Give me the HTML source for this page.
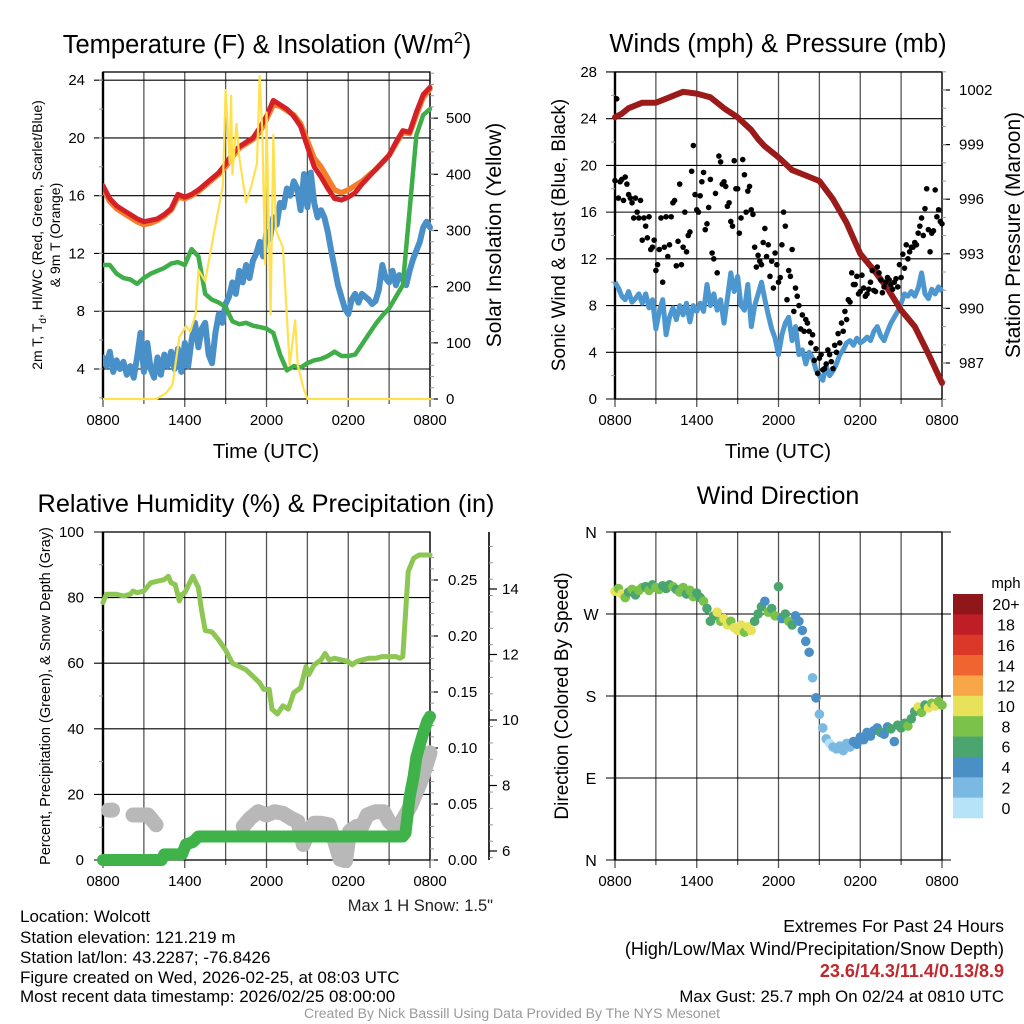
<!DOCTYPE html>
<html><head><meta charset="utf-8">
<style>
html,body{margin:0;padding:0;background:#fff;}
svg{display:block;font-family:"Liberation Sans",sans-serif;}
</style></head>
<body>
<svg id="chart" width="1024" height="1024" viewBox="0 0 1024 1024" xmlns="http://www.w3.org/2000/svg">
<rect x="0" y="0" width="1024" height="1024" fill="#fff"/>
</svg>
<script>
// ---------------- DATA ----------------
const timeLabels = ["0800","1400","2000","0200","0800"];
const timeLabelHours = [0,6,12,18,24];
// Panel 1 (0.5 h step)
const tempRed = [16.7,15.8,15.3,15.0,14.7,14.4,14.2,14.3,14.4,14.7,15.1,16.1,15.9,16.1,16.4,16.8,17.2,17.6,18.2,18.9,19.4,19.7,20.0,20.7,21.5,22.6,22.3,22.0,21.5,20.8,19.4,18.0,17.3,16.5,15.8,15.7,15.9,16.2,16.8,17.3,17.8,18.3,18.8,19.7,20.5,20.4,21.8,23.0,23.5];
const temp9mOrange = [16.5,15.6,15.1,14.8,14.5,14.2,14.0,14.1,14.3,14.6,15.0,15.9,15.8,16.0,16.3,16.7,17.1,17.5,18.0,18.7,19.3,19.6,19.9,20.4,21.3,22.3,22.2,21.9,21.6,21.0,19.8,18.6,18.0,17.2,16.4,16.2,16.4,16.7,17.0,17.4,17.8,18.3,18.8,19.6,20.4,20.3,21.6,22.8,23.4];
const dewGreen = [11.2,11.2,10.6,10.3,10.2,9.9,10.3,10.6,10.8,11.0,11.3,11.4,11.2,12.3,11.8,9.2,8.8,8.6,8.3,7.3,7.1,7.2,7.0,6.9,6.8,6.5,5.0,3.9,4.2,4.1,4.4,4.6,4.7,4.9,5.2,4.9,4.9,5.0,5.7,6.4,7.1,7.7,8.2,9.0,9.8,15.0,20.2,21.6,22.0];
// wind chill (0.25 h step)
const windChillBlue = [4.8,4.2,5.2,3.8,4.6,4.0,4.5,3.6,4.2,
 3.4,4.8,6.5,3.8,5.8,4.0,3.4,4.8,
 3.6,5.0,4.2,5.2,4.0,5.4,3.8,5.8,
 4.2,6.0,7.2,5.5,6.8,7.2,5.0,4.4,
 6.5,7.8,7.2,8.5,9.0,10.0,9.2,10.8,
 10.0,11.2,10.3,11.5,12.0,12.8,11.8,13.5,
 13.0,14.5,14.0,15.5,15.2,16.5,16.0,17.0,
 16.5,15.0,17.5,15.2,17.6,15.5,14.5,15.0,
 14.5,13.5,12.2,11.0,9.8,9.0,8.2,7.8,
 8.8,9.2,8.6,9.2,9.0,8.8,8.5,8.7,
 9.5,11.2,10.3,10.0,10.8,9.8,10.5,10.2,
 9.8,10.8,11.6,12.2,12.8,13.8,14.2,13.8];
const solarT = [0,3.9,4.6,5.1,5.6,6.1,6.4,6.8,7.0,7.5,8.1,8.8,9.0,9.3,9.4,9.5,9.8,10.0,10.5,10.9,11.3,11.5,11.7,11.9,12.0,12.3,12.5,12.7,13.2,13.7,14.1,14.3,14.7,15.0,24];
const solarV = [0,0,10,25,110,130,120,150,230,210,290,380,550,420,540,400,490,430,350,380,420,575,470,240,510,150,470,300,270,60,140,60,20,0,0];
// Panel 2 (0.25 h step)
const sonicWind = [10.0,9.5,8.8,8.5,9.2,8.3,8.6,9.0,8.2,
 9.0,7.8,8.5,6.0,7.5,8.5,5.5,7.0,
 7.8,6.8,8.0,7.2,8.2,6.6,8.0,7.5,
 8.2,7.5,9.8,8.0,9.0,7.6,8.5,6.5,
 8.6,10.8,9.2,10.5,8.0,7.6,9.8,6.2,
 8.0,9.0,10.0,8.5,7.2,6.0,5.2,3.8,
 5.5,6.5,7.0,5.0,6.2,3.8,4.2,3.0,
 4.0,3.5,2.5,2.0,1.6,2.8,2.0,2.4,
 3.0,3.8,4.2,4.8,5.0,4.6,5.2,4.8,
 5.0,5.3,5.0,5.8,6.2,5.4,5.0,5.8,
 6.5,7.0,7.5,8.2,9.0,8.8,9.2,8.8,
 9.5,10.8,9.0,8.6,9.4,9.0,9.6,9.2];
const gustA = [18.7,17.2,18.8,19.0,17.5,16.8,17.2,15.5,13.6,
 14.8,15.6,13.0,11.0,12.8,10.0,15.6,13.2,
 16.8,11.4,18.4,13.0,12.6,14.3,21.7,16.2,
 17.4,19.4,15.0,18.8,12.0,10.8,20.3,18.6,
 16.5,15.2,20.4,18.0,15.5,19.2,17.8,16.2,
 13.0,12.3,11.5,14.6,13.2,11.8,12.5,10.0,
 13.2,14.8,11.0,12.8,9.5,8.0,7.2,6.8,
 5.8,5.5,4.3,3.5,2.5,3.0,3.8,2.6,
 4.0,4.8,5.8,6.8,8.3,9.8,10.5,9.2,
 9.5,9.0,10.0,9.3,11.3,10.2,9.6,10.4,
 9.8,10.0,9.6,10.4,11.2,12.0,13.0,13.4,
 14.2,15.5,16.3,14.5,14.2,17.9,16.2,15.0];
const gustB = [25.7,18.6,17.0,18.4,17.2,15.5,16.0,17.0,
 15.5,13.8,12.8,13.6,11.5,15.5,13.0,12.2,
 15.6,17.0,13.5,11.5,16.0,14.0,19.5,17.5,
 16.0,18.6,14.5,16.4,12.5,17.6,20.8,18.4,
 18.2,16.8,14.8,18.0,14.2,20.5,16.0,18.2,
 15.8,11.3,11.8,13.4,12.2,10.5,9.5,11.5,
 10.4,16.0,8.5,10.5,7.5,8.8,6.0,5.8,
 6.5,4.8,3.3,2.2,3.8,2.6,4.2,3.2,
 4.6,5.6,6.5,7.5,8.5,10.8,9.8,9.0,
 10.6,8.8,9.4,11.0,9.2,10.8,9.1,10.0,
 10.2,9.4,10.3,11.5,12.4,13.2,12.6,13.0,
 13.2,14.8,14.0,18.0,12.6,14.4,15.6,15.2];
const pressT = [0,0.5,1,2,3,4,5,6,7,8,9,10,10.5,11,12,13,14,15,16,17,18,19,20,21,22,23,24];
const pressV = [1000.5,1000.7,1001.0,1001.3,1001.3,1001.6,1001.9,1001.8,1001.6,1001.0,1000.5,999.8,999.3,998.9,998.3,997.6,997.3,997.0,996.0,994.7,993.0,992.1,991.1,989.9,989.0,987.5,985.9];
// Panel 3
const rhT = [0,0.25,0.5,1,1.5,2,2.2,2.5,3,3.5,4,4.5,4.8,5,5.3,5.6,5.8,6,6.3,6.6,7,7.2,7.5,8,8.5,9,9.5,10,10.5,11,11.5,11.8,12.2,12.4,12.8,13.2,13.6,14,14.5,14.9,15.1,15.5,16,16.3,16.6,17,17.5,18,18.3,18.6,19,19.5,20,20.5,21,21.5,21.8,22,22.2,22.4,22.8,23.2,24];
const rhV = [78.5,81,81,81,80.5,81,82,81.5,82,84.5,85,85.5,86.5,84.5,84,79,81,81.5,84,86.5,83,77,70,69.5,67,64,60,59,58,56,54,52,52,46,44.5,47,46,51,52.5,59,56.5,59.5,61,63,61,61.5,61,60.5,59.5,60.5,61,61.5,61.5,62,62,62,61.5,62,75,88,92,93,93];
const precipT = [0,4.3,4.5,5.8,6.1,6.6,7.0,22.0,22.2,22.5,22.8,23.0,23.3,23.5,23.8,24];
const precipV = [0,0,0.005,0.005,0.014,0.016,0.021,0.021,0.024,0.056,0.075,0.092,0.105,0.113,0.124,0.128];
const snowT = [0.4,0.7,null,2.2,2.8,3.3,3.6,3.9,null,10.3,10.8,11.4,12.0,12.6,13.2,13.8,14.3,14.7,15.1,15.5,16.0,16.6,17.0,17.4,17.8,18.1,18.6,19.0,19.4,20.0,20.6,21.0,21.4,21.8,22.2,22.6,23.0,23.4,23.7,24.0];
const snowV = [7.25,7.25,null,7.1,7.1,7.1,6.95,6.8,null,6.75,7.0,7.2,7.1,7.2,7.15,7.0,6.9,6.2,6.6,6.85,6.85,6.8,6.3,5.75,5.7,6.6,6.75,6.75,7.1,7.2,7.2,6.9,6.75,6.8,7.1,7.4,7.8,8.2,8.6,9.0];
// Panel 4 (0.25 h step)
const windDir = [295,298,292,288,294,297,291,296,299,
 300,296,302,299,297,301,298,302,
 300,297,294,299,292,296,289,293,
 288,284,276,262,268,272,262,265,
 258,262,255,252,258,250,256,252,
 262,270,278,284,272,276,268,300,
 265,270,262,258,268,262,252,240,
 228,200,178,160,145,133,128,124,
 122,125,120,128,124,130,127,135,
 132,140,136,142,145,140,138,146,
 144,130,148,145,150,147,155,163,
 168,162,170,167,172,169,174,170];
const dirSpeed = [10,9,11,8,7,8,7,9,8,
 6,8,7,8,8,7,6,7,
 8,7,8,9,7,8,8,7,
 7,8,6,6,7,10,9,11,
 10,9,11,10,10,9,11,10,
 7,6,6,5,8,6,9,6,
 4,6,8,7,5,4,4,5,
 4,3,4,3,2,2,1,2,
 2,2,2,3,3,4,4,4,
 4,5,4,4,5,6,5,4,
 6,5,6,7,7,8,7,7,
 10,8,7,10,8,11,9,8];
const speedColors = ["#b6e3f8","#7bb9e3","#4a8fc6","#4aa56f","#7bc24b","#e8e25b","#f7a747","#f06430","#dc3829","#bf1e27","#8f1619"];
const speedLabels = ["0","2","4","6","8","10","12","14","16","18","20+"];
const dirLabels = ["N","E","S","W","N"];
const dirTicks = [0,90,180,270,360];
const p1LeftTicks = [4,8,12,16,20,24];
const p1RightTicks = [0,100,200,300,400,500];
const p2LeftTicks = [0,4,8,12,16,20,24,28];
const p2RightTicks = [987,990,993,996,999,1002];
const p3LeftTicks = [0,20,40,60,80,100];
const p3PrecipTicks = [0,0.05,0.10,0.15,0.20,0.25];
const p3SnowTicks = [6,8,10,12,14];

// ---------------- HELPERS ----------------
const NS = 'http://www.w3.org/2000/svg';
const svg = document.getElementById('chart');
function el(tag, attrs, parent){
  const e = document.createElementNS(NS, tag);
  for (const k in attrs) e.setAttribute(k, attrs[k]);
  (parent || svg).appendChild(e);
  return e;
}
function path(ts, vs, X, Y){
  let d = '', pen = false;
  for (let i = 0; i < ts.length; i++){
    if (ts[i] === null || vs[i] === null){ pen = false; continue; }
    d += (pen ? 'L' : 'M') + X(ts[i]).toFixed(1) + ',' + Y(vs[i]).toFixed(1);
    pen = true;
  }
  return d;
}
function steps(n, dt, t0){ const a = []; for (let i = 0; i < n; i++) a.push(t0 + i*dt); return a; }
function txt(x, y, s, size, anchor, parent, extra){
  const t = el('text', Object.assign({x:x, y:y, 'font-size':size, 'text-anchor':anchor || 'start', fill:'#000'}, extra || {}), parent);
  t.textContent = s;
  return t;
}

function makeX(x0, x1){ return h => x0 + h*(x1-x0)/24; }

function drawFrame(g, P, X, gridYs){
  for (let h = 0; h <= 24; h += 3){
    const isMajor = (h % 6 === 0);
    const ln = el('line', {x1:X(h), y1:P.y0, x2:X(h), y2:P.y1 + (isMajor ? 8 : 5), stroke: '#555', 'stroke-width':1.3}, g);
    
    
  }
  gridYs.forEach(y => {
    const ln = el('line', {x1:P.x0-9, y1:y, x2:P.x1, y2:y, stroke:'#000', 'stroke-width':1.1}, g);
    
    
  });
  const fr = el('rect', {x:P.x0, y:P.y0, width:P.x1-P.x0, height:P.y1-P.y0, fill:'none', stroke:'#000', 'stroke-width':1.3}, g);
  
  
  const la = el('line', {x1:P.x0, y1:P.y0, x2:P.x0, y2:P.y1, stroke:'#000', 'stroke-width':2.4}, g);
  
  
  timeLabels.forEach((s, i) => {
    const t = txt(X(timeLabelHours[i]), P.y1 + 26, s, 15, 'middle', g);
    
    
  });
}
function leftLabels(g, ticks, Y, x, fmt){
  ticks.forEach(v => {
    const t = txt(x, Y(v) + 5, fmt ? fmt(v) : String(v), 15, 'end', g);
    
    
  });
}
function rightAxis(g, ticks, Y, x, labelX, minorStep, vmin, vmax, fmt, name){
  ticks.forEach(v => {
    const tk = el('line', {x1:x, y1:Y(v), x2:x+8, y2:Y(v), stroke:'#000', 'stroke-width':1.2}, g);
    
    
    const t = txt(labelX, Y(v) + 5, fmt ? fmt(v) : String(v), 15, 'start', g);
    
    
  });
  for (let v = vmin; v <= vmax + 1e-9; v += minorStep){
    const mt = el('line', {x1:x, y1:Y(v), x2:x+4, y2:Y(v), stroke:'#999', 'stroke-width':1}, g);
    
    
  }
}
function rotLabel(g, x, y, s, size, name){
  const t = el('text', {x:0, y:0, 'font-size':size, 'text-anchor':'middle', transform:'translate(' + x + ',' + y + ') rotate(-90)'}, g);
  t.textContent = s;
  
  
  return t;
}

const q = steps(97, 0.25, 0);
const half = steps(49, 0.5, 0);
const qB = steps(96, 0.25, 0.125);

// ---------------- PANEL 1 ----------------
(function(){
  const P = {x0:103, x1:430, y0:72, y1:399};
  const X = makeX(P.x0, P.x1);
  const YL = v => 369 - (v - 4)*14.44;
  const YR = w => 399 - w*0.5617;
  const g = el('g', {});
  
  
  drawFrame(g, P, X, p1LeftTicks.map(YL));
  for (let v = 2; v <= 24; v += 2){
    const mt = el('line', {x1:P.x0-4, y1:YL(v), x2:P.x0, y2:YL(v), stroke:'#999'}, g);
    
    
  }
  leftLabels(g, p1LeftTicks, YL, 85);
  rightAxis(g, p1RightTicks, YR, P.x1, 446, 20, 0, 580, null, 'insolation');
  const clip = el('clipPath', {id:'c1'}, g);
  el('rect', {x:P.x0, y:P.y0-2, width:P.x1-P.x0+4, height:P.y1-P.y0+4}, clip);
  const s = el('g', {'clip-path':'url(#c1)', fill:'none', 'stroke-linejoin':'round', 'stroke-linecap':'round'}, g);
  let e;
  e = el('path', {d:path(q, windChillBlue, X, YL), stroke:'#4a90c8', 'stroke-width':6}, s);
  
  
  e = el('path', {d:path(half, dewGreen, X, YL), stroke:'#3fae49', 'stroke-width':4.5}, s);
  
  
  e = el('path', {d:path(half, temp9mOrange, X, YL), stroke:'#f47e2a', 'stroke-width':5.5}, s);
  
  
  e = el('path', {d:path(half, tempRed, X, YL), stroke:'#d42027', 'stroke-width':5}, s);
  
  
  e = el('path', {d:path(solarT, solarV, X, YR), stroke:'#ffe14f', 'stroke-width':2.2}, s);
  
  
  const title = el('text', {x:267, y:53, 'font-size':25.5, 'text-anchor':'middle'}, g);
  title.innerHTML = 'Temperature (F) &amp; Insolation (W/m<tspan font-size="16" dy="-10">2</tspan><tspan dy="10">)</tspan>';
  
  
  const yl = el('text', {x:0, y:0, 'font-size':14, 'text-anchor':'middle', transform:'translate(42,235) rotate(-90)'}, g);
  yl.innerHTML = '2m T, T<tspan font-size="10" dy="4">d</tspan><tspan dy="-4">, HI/WC (Red, Green, Scarlet/Blue)</tspan>';
  
  
  rotLabel(g, 60, 235, '& 9m T (Orange)', 14, 'left-axis-title-line2');
  rotLabel(g, 501, 235, 'Solar Insolation (Yellow)', 21, 'right-axis-title');
  const xt = txt(266, 458, 'Time (UTC)', 20.5, 'middle', g);
  
  
})();

// ---------------- PANEL 2 ----------------
(function(){
  const P = {x0:615, x1:942, y0:72, y1:399};
  const X = makeX(P.x0, P.x1);
  const YL = v => 399 - v*11.68;
  const YR = p => 90 + (1002 - p)*18.2;
  const g = el('g', {});
  
  
  drawFrame(g, P, X, p2LeftTicks.map(YL));
  for (let v = 2; v <= 28; v += 4){
    const mt = el('line', {x1:P.x0-4, y1:YL(v), x2:P.x0, y2:YL(v), stroke:'#999'}, g);
    
    
  }
  leftLabels(g, p2LeftTicks, YL, 597);
  rightAxis(g, p2RightTicks, YR, P.x1, 959, 1, 985, 1003, null, 'pressure');
  const clip = el('clipPath', {id:'c2'}, g);
  el('rect', {x:P.x0-4, y:P.y0-4, width:P.x1-P.x0+8, height:P.y1-P.y0+8}, clip);
  const s = el('g', {'clip-path':'url(#c2)'}, g);
  let e = el('path', {d:path(q, sonicWind, X, YL), stroke:'#4d97d1', 'stroke-width':5, fill:'none', 'stroke-linejoin':'round'}, s);
  
  
  e = el('path', {d:path(pressT, pressV, X, YR), stroke:'#9b1b1b', 'stroke-width':6, fill:'none', 'stroke-linejoin':'round', 'stroke-linecap':'round'}, s);
  
  
  const dots = el('g', {fill:'#000'}, s);
  
  
  gustA.forEach((v, i) => {
    const c = el('circle', {cx:X(q[i]), cy:YL(v), r:2.8}, dots);
    
    
  });
  gustB.forEach((v, i) => {
    const c = el('circle', {cx:X(qB[i]), cy:YL(v), r:2.8}, dots);
    
    
  });
  const title = txt(778, 52, 'Winds (mph) & Pressure (mb)', 25.5, 'middle', g);
  
  
  rotLabel(g, 565, 235, 'Sonic Wind & Gust (Blue, Black)', 19, 'left-axis-title');
  rotLabel(g, 1020, 235, 'Station Pressure (Maroon)', 21, 'right-axis-title');
  const xt = txt(778, 458, 'Time (UTC)', 20.5, 'middle', g);
  
  
})();

// ---------------- PANEL 3 ----------------
(function(){
  const P = {x0:103, x1:430, y0:532, y1:860};
  const X = makeX(P.x0, P.x1);
  const YL = v => 860 - v*3.28;
  const YP = p => 860 - p*1120;
  const YS = s => 851 - (s - 6)*32.75;
  const g = el('g', {});
  
  
  drawFrame(g, P, X, p3LeftTicks.map(YL));
  for (let v = 10; v <= 100; v += 20){
    const mt = el('line', {x1:P.x0-4, y1:YL(v), x2:P.x0, y2:YL(v), stroke:'#999'}, g);
    
    
  }
  leftLabels(g, p3LeftTicks, YL, 84);
  rightAxis(g, p3PrecipTicks, YP, P.x1, 448, 0.01, 0, 0.27, v => v.toFixed(2), 'precip');
  const sa = el('line', {x1:489, y1:532, x2:489, y2:860, stroke:'#000', 'stroke-width':1.6}, g);
  
  
  rightAxis(g, p3SnowTicks, YS, 489, 502, 0.5, 5.8, 15.5, null, 'snow');
  const clip = el('clipPath', {id:'c3'}, g);
  el('rect', {x:P.x0-8, y:P.y0, width:P.x1-P.x0+16, height:P.y1-P.y0+8}, clip);
  const s = el('g', {'clip-path':'url(#c3)', fill:'none', 'stroke-linejoin':'round', 'stroke-linecap':'round'}, g);
  let e = el('path', {d:path(snowT, snowV, X, YS), stroke:'#b8b8b8', 'stroke-width':15}, s);
  
  
  e = el('path', {d:path(rhT, rhV, X, YL), stroke:'#8dc652', 'stroke-width':5}, s);
  
  
  e = el('path', {d:path(precipT, precipV, X, YP), stroke:'#3fb34a', 'stroke-width':12}, s);
  
  
  const title = txt(266, 512, 'Relative Humidity (%) & Precipitation (in)', 25.3, 'middle', g);
  
  
  rotLabel(g, 50, 696, 'Percent, Precipitation (Green), & Snow Depth (Gray)', 14.5, 'left-axis-title');
  const ms = txt(493, 911, 'Max 1 H Snow: 1.5"', 16.5, 'end', g, {fill:'#222'});
  
  
})();

// ---------------- PANEL 4 ----------------
(function(){
  const P = {x0:615, x1:942, y0:532, y1:860};
  const X = makeX(P.x0, P.x1);
  const Y = d => 860 - d*328/360;
  const g = el('g', {});
  
  
  drawFrame(g, P, X, []);
  dirTicks.forEach((d, i) => {
    const ln = el('line', {x1:P.x0-9, y1:Y(d), x2:P.x1+9, y2:Y(d), stroke:'#000', 'stroke-width':1.1}, g);
    
    
    const t = txt(591, Y(d) + 6, dirLabels[i], 16, 'middle', g);
    
    
  });
  const dots = el('g', {}, g);
  
  
  windDir.forEach((d, i) => {
    const bin = Math.max(0, Math.min(10, Math.floor(dirSpeed[i]/2)));
    const c = el('circle', {cx:X(q[i]), cy:Y(d), r:4.8, fill:speedColors[bin]}, dots);
    
    
  });
  const cb = el('g', {}, g);
  
  
  const top = 594, bh = (818 - 594)/11;
  for (let i = 0; i < 11; i++){
    const k = 10 - i;
    const r = el('rect', {x:953, y:top + i*bh, width:30, height:bh + 0.3, fill:speedColors[k]}, cb);
    
    
    const t = txt(1006, top + i*bh + bh/2 + 6, speedLabels[k], 16, 'middle', cb);
    
    
  }
  const u = txt(1006, 588, 'mph', 15, 'middle', cb);
  
  
  const title = txt(778, 504, 'Wind Direction', 25, 'middle', g);
  
  
  rotLabel(g, 568, 696, 'Direction (Colored By Speed)', 19, 'left-axis-title');
})();

// ---------------- FOOTER TEXT ----------------
(function(){
  const g = el('g', {});
  
  
  const lines = ['Location: Wolcott','Station elevation: 121.219 m','Station lat/lon: 43.2287; -76.8426','Figure created on Wed, 2026-02-25, at 08:03 UTC','Most recent data timestamp: 2026/02/25 08:00:00'];
  const ys = [922,943,963,983,1002];
  lines.forEach((s, i) => {
    const t = txt(20, ys[i], s, 17, 'start', g);
    
    
  });
  let t = txt(1004, 932, 'Extremes For Past 24 Hours', 17.5, 'end', g);
  
  
  t = txt(1004, 955, '(High/Low/Max Wind/Precipitation/Snow Depth)', 18, 'end', g);
  
  
  t = txt(1004, 977, '23.6/14.3/11.4/0.13/8.9', 18, 'end', g, {fill:'#c1272d', 'font-weight':'bold'});
  
  
  t = txt(1004, 1002, 'Max Gust: 25.7 mph On 02/24 at 0810 UTC', 16.8, 'end', g);
  
  
  t = txt(512, 1018, 'Created By Nick Bassill Using Data Provided By The NYS Mesonet', 14, 'middle', g, {fill:'#999'});
  
  
})();
</script>
</body></html>
